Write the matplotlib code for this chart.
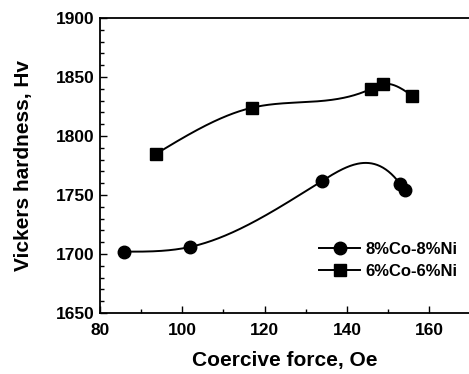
import numpy as np
import matplotlib
matplotlib.use("Agg")
import matplotlib.pyplot as plt
from matplotlib.ticker import MultipleLocator

# data
co8_x = [85.8, 101.9, 134.0, 153.0, 154.0]
co8_y = [1702, 1706, 1762, 1759, 1754]
co6_x = [93.7, 117.0, 145.9, 148.8, 155.9]
co6_y = [1785, 1824, 1840, 1844, 1834]
labels = ["8%Co-8%Ni", "6%Co-6%Ni"]


def natural_spline(x, y, n=300):
    # plain natural cubic spline, good enough for the smooth connecting line
    x = np.asarray(x, float)
    y = np.asarray(y, float)
    k = len(x)
    h = np.diff(x)
    A = np.zeros((k, k))
    b = np.zeros(k)
    A[0, 0] = A[-1, -1] = 1
    for i in range(1, k - 1):
        A[i, i - 1] = h[i - 1]
        A[i, i] = 2 * (h[i - 1] + h[i])
        A[i, i + 1] = h[i]
        b[i] = 3 * ((y[i + 1] - y[i]) / h[i] - (y[i] - y[i - 1]) / h[i - 1])
    c = np.linalg.solve(A, b)
    xs = np.linspace(x[0], x[-1], n)
    idx = np.clip(np.searchsorted(x, xs) - 1, 0, k - 2)
    dx = xs - x[idx]
    bb = (y[1:] - y[:-1]) / h - h * (2 * c[:-1] + c[1:]) / 3
    d = (c[1:] - c[:-1]) / (3 * h)
    ys = y[idx] + bb[idx] * dx + c[idx] * dx ** 2 + d[idx] * dx ** 3
    return xs, ys


plt.rcParams["font.family"] = ["Liberation Sans", "DejaVu Sans"]
plt.rcParams["font.weight"] = "bold"

fig = plt.figure(figsize=(4.69, 3.74), dpi=100)
ax = fig.add_axes([0.213, 0.163, 0.79, 0.789])

for xs, ys, m, lab in [(co8_x, co8_y, "o", labels[0]), (co6_x, co6_y, "s", labels[1])]:
    sx, sy = natural_spline(xs, ys)
    ax.plot(sx, sy, color="black", lw=1.4)
    ax.plot(xs, ys, m, color="black", ms=9)
    ax.plot([], [], "-", marker=m, color="black", ms=9, lw=1.4, label=lab)

ax.set_xlim(80, 170)
ax.set_ylim(1650, 1900)
ax.xaxis.set_major_locator(MultipleLocator(20))
ax.xaxis.set_minor_locator(MultipleLocator(10))
ax.yaxis.set_major_locator(MultipleLocator(50))
ax.yaxis.set_minor_locator(MultipleLocator(10))
ax.tick_params(which="both", direction="in", labelsize=12.5, width=1)
ax.tick_params(axis="x", pad=7)
ax.tick_params(axis="y", pad=4)
ax.tick_params(which="major", length=5)
ax.tick_params(which="minor", length=3)
for s in ax.spines.values():
    s.set_linewidth(1.3)

ax.set_xlabel("Coercive force, Oe", fontsize=15, fontweight="bold")
ax.set_ylabel("Vickers hardness, Hv", fontsize=15, fontweight="bold")
ax.xaxis.set_label_coords(0.5, -0.13)
ax.yaxis.set_label_coords(-0.18, 0.5)

ax.legend(loc="center left", bbox_to_anchor=(0.55, 0.178), frameon=False,
          fontsize=12, handlelength=2.5, handletextpad=0.3, labelspacing=0.4)

fig.savefig("out.png", dpi=100)
